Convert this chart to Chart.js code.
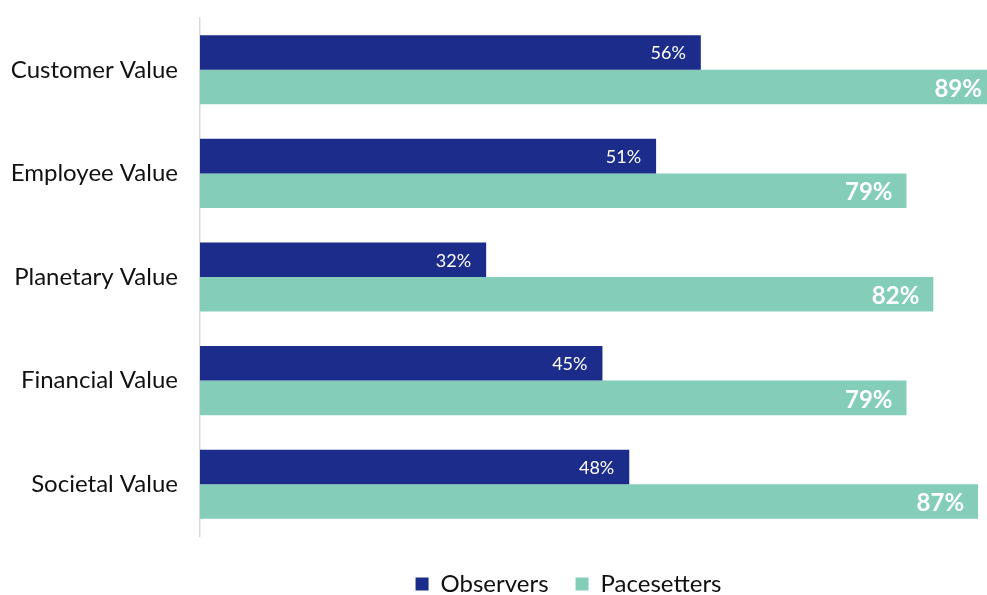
<!DOCTYPE html>
<html>
<head>
<meta charset="utf-8">
<script src="https://cdn.jsdelivr.net/npm/chart.js@4"></script>
<style>
  html, body { margin: 0; padding: 0; background: #fff; }
  #wrap { width: 987px; height: 595px; position: relative; }
</style>
</head>
<body>
<div id="wrap"><canvas id="grafValor"></canvas></div>
<script>
/*======== DATOS ========*/
const categorias = ["Customer Value", "Employee Value", "Planetary Value", "Financial Value", "Societal Value"];
const observers = [56, 51, 32, 45, 48];
const pacesetters = [89, 79, 82, 79, 87];
const nombresSeries = ["Observers", "Pacesetters"];

const azul = "#1b2c8b";
const verde = "#84cdb9";

/*======== ETIQUETAS EN BARRAS ========*/
const etiquetasBarras = {
	id: 'etiquetasBarras',
	afterDatasetsDraw(chart){
		const ctx = chart.ctx;
		chart.data.datasets.forEach((ds, i) => {
			const meta = chart.getDatasetMeta(i);
			meta.data.forEach((bar, j) => {
				const end = chart.scales.x.getPixelForValue(ds.data[j]);
				ctx.save();
				ctx.fillStyle = "#ffffff";
				ctx.textAlign = "right";
				ctx.textBaseline = "middle";
				if(i === 0){
					ctx.font = "18px Lato";
					ctx.fillText(ds.data[j] + "%", end - 15, bar.y + 1);
				} else {
					ctx.font = "bold 24px Lato";
					ctx.fillText(ds.data[j] + "%", end - 14, bar.y + 2);
				}
				ctx.restore();
			});
		});
	}
};

/*======== MOVER LEYENDA ========*/
const moverLeyenda = {
	id: 'moverLeyenda',
	afterUpdate(chart){
		chart.legend.left += 75;
		chart.legend.right += 75;
	}
};

function cargarGrafica(){
	const ctx = document.getElementById('grafValor').getContext("2d");
	new Chart(ctx, {
		type: "bar",
		data: {
			labels: categorias,
			datasets: [{
				label: nombresSeries[0],
				backgroundColor: azul,
				data: observers,
				barPercentage: 1,
				categoryPercentage: 0.667
			},{
				label: nombresSeries[1],
				backgroundColor: verde,
				data: pacesetters,
				barPercentage: 1,
				categoryPercentage: 0.667
			}]
		},
		options: {
			indexAxis: 'y',
			responsive: true,
			maintainAspectRatio: false,
			animation: false,
			layout: { padding: { top: 18, right: 0, left: 0, bottom: -11 } },
			scales: {
				x: {
					min: 0,
					max: 88,
					grid: { display: false, drawTicks: false },
					border: { display: false },
					ticks: { display: false },
					afterFit: s => { s.height = 9; }
				},
				y: {
					afterFit: s => { s.width = 200; s.paddingTop = 0; s.paddingBottom = 0; },
					grid: { display: false, drawTicks: false },
					border: { display: true, color: "#d9d9d9", width: 1.5 },
					ticks: {
						color: "#111111",
						padding: 22,
						font: { family: "Lato", size: 24 }
					}
				}
			},
			plugins: {
				tooltip: { enabled: false },
				legend: {
					position: 'bottom',
					labels: {
						color: "#111111",
						font: { family: "Lato", size: 24 },
						boxWidth: 13,
						boxHeight: 13,
						padding: 27,
						useBorderRadius: false
					}
				}
			}
		},
		plugins: [etiquetasBarras, moverLeyenda]
	});
}
cargarGrafica();
</script>
</body>
</html>
